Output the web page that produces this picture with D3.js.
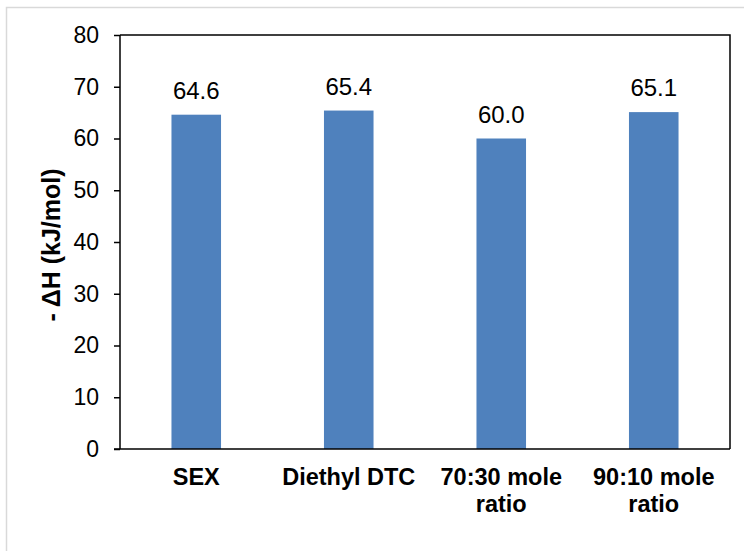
<!DOCTYPE html>
<html>
<head>
<meta charset="utf-8">
<script src="https://cdn.jsdelivr.net/npm/d3@7"></script>
<style>
  html, body { margin: 0; padding: 0; background: #fff; }
  svg { display: block; font-family: Arial, "Liberation Sans", sans-serif; }
</style>
</head>
<body>
<svg id="chart" width="744" height="551"></svg>
<script>
// Enthalpy of adsorption for each collector
const categories = [["SEX"], ["Diethyl DTC"], ["70:30 mole", "ratio"], ["90:10 mole", "ratio"]];
const values = [64.6, 65.4, 60.0, 65.1];
const yTicks = [0, 10, 20, 30, 40, 50, 60, 70, 80];
const yTitle = "- ΔH (kJ/mol)";

const svg = d3.select("#chart");
const W = 744, H = 551;
const plot = { left: 120, right: 730, top: 35, bottom: 449 };

// Light frame around the chart area
svg.append("rect")
  .attr("x", 6.5).attr("y", 7.5)
  .attr("width", W + 10).attr("height", H + 10)
  .attr("fill", "#fff").attr("stroke", "#d9d9d9").attr("stroke-width", 1.5);

const keys = categories.map(c => c.join(" "));
const x = d3.scaleBand().domain(keys).range([plot.left, plot.right]).paddingInner(0.675).paddingOuter(0.3375);
const y = d3.scaleLinear().domain([0, 80]).range([plot.bottom, plot.top]);

// Bars
svg.append("g").selectAll("rect")
  .data(values)
  .join("rect")
  .attr("x", (d, i) => x(keys[i]))
  .attr("y", d => y(d))
  .attr("width", x.bandwidth())
  .attr("height", d => y(0) - y(d))
  .attr("fill", "#4f81bd");

// Value labels
svg.append("g").selectAll("text")
  .data(values)
  .join("text")
  .attr("x", (d, i) => x(keys[i]) + x.bandwidth() / 2)
  .attr("y", d => y(d) - 16)
  .attr("text-anchor", "middle")
  .attr("font-size", 24)
  .attr("fill", "#000")
  .text(d => d.toFixed(1));

// Plot frame: top and right edges
svg.append("path")
  .attr("d", `M${plot.left},${plot.top}H${plot.right}V${plot.bottom}`)
  .attr("fill", "none").attr("stroke", "#000").attr("stroke-width", 1.5);

// Y axis
const yAxis = svg.append("g")
  .attr("transform", `translate(${plot.left},0)`)
  .call(d3.axisLeft(y).tickValues(yTicks).tickSize(6).tickPadding(15).tickFormat(d3.format("d")));
yAxis.select(".domain").attr("stroke", "#000").attr("stroke-width", 1.5).attr("d", `M0,${plot.bottom}V${plot.top}`);
yAxis.selectAll(".tick line").attr("stroke", "#000").attr("stroke-width", 1.5);
yAxis.selectAll(".tick text")
  .attr("font-size", 23).attr("font-family", "Arial, 'Liberation Sans', sans-serif").attr("fill", "#000");

// X axis
const xAxis = svg.append("g")
  .attr("transform", `translate(0,${plot.bottom})`)
  .call(d3.axisBottom(x).tickSize(0).tickFormat(""));
xAxis.select(".domain").attr("stroke", "#000").attr("stroke-width", 1.5).attr("d", `M${plot.left - 6},0H${plot.right}`);

// Category labels (wrapped)
const catG = svg.append("g");
categories.forEach((lines, i) => {
  const t = catG.append("text")
    .attr("x", x(keys[i]) + x.bandwidth() / 2)
    .attr("y", 485)
    .attr("text-anchor", "middle")
    .attr("font-size", 23.5)
    .attr("font-weight", "bold")
    .attr("fill", "#000");
  lines.forEach((ln, j) => {
    t.append("tspan")
      .attr("x", x(keys[i]) + x.bandwidth() / 2)
      .attr("dy", j === 0 ? 0 : 27)
      .text(ln);
  });
});

// Y axis title
svg.append("text")
  .attr("transform", `translate(60,245) rotate(-90)`)
  .attr("text-anchor", "middle")
  .attr("font-size", 25)
  .attr("font-weight", "bold")
  .attr("fill", "#000")
  .text(yTitle);
</script>
</body>
</html>
